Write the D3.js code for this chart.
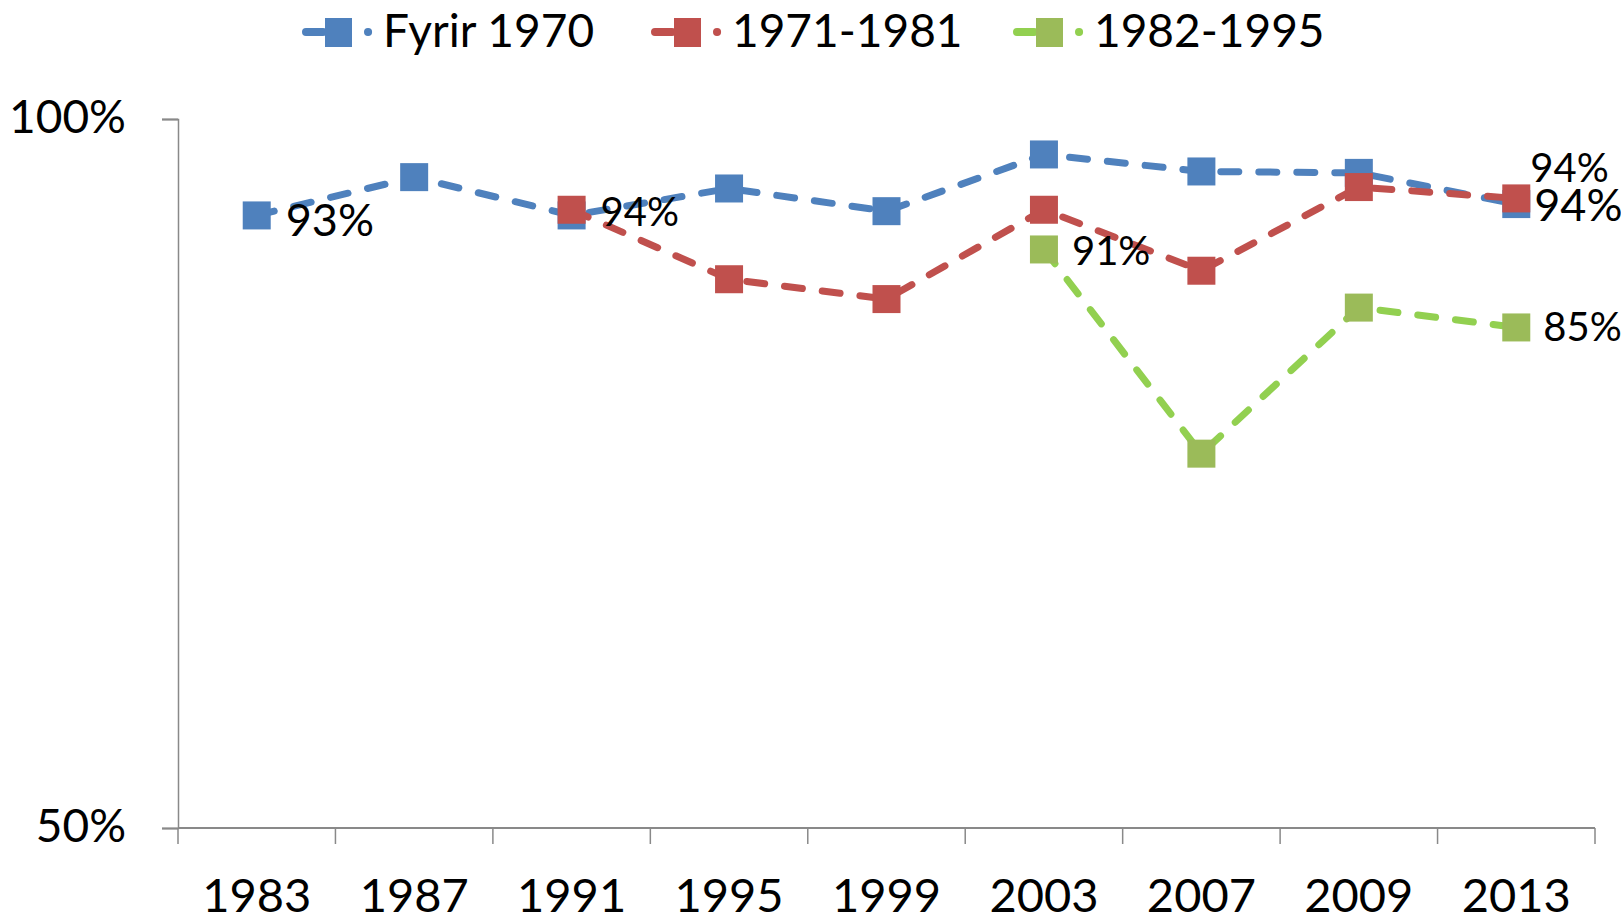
<!DOCTYPE html>
<html>
<head>
<meta charset="utf-8">
<script src="https://cdn.jsdelivr.net/npm/d3@7"></script>
<style>
  body { margin: 0; background: #fff; }
  text { font-family: Lato, "Open Sans", sans-serif; fill: #000; }
</style>
</head>
<body>
<div id="c1"></div>
<script>
// Data
var years = ["1983", "1987", "1991", "1995", "1999", "2003", "2007", "2009", "2013"];
var seriesNames = ["Fyrir 1970", "1971-1981", "1982-1995"];
var fyrir1970 = [93.2, 95.9, 93.2, 95.1, 93.5, 97.5, 96.3, 96.2, 94.0];
var s1971_1981 = [null, null, 93.6, 88.7, 87.3, 93.6, 89.3, 95.2, 94.4];
var s1982_1995 = [null, null, null, null, null, 90.8, 76.4, 86.7, 85.3];
var yTicks = [50, 100];

// Layout
var w = 1621, h = 917;
var plotLeft = 178, plotRight = 1595, plotTop = 119, plotBottom = 828;
var lineColors = ["#4F81BD", "#C0504D", "#92D050"];
var markColors = ["#4F81BD", "#C0504D", "#9BBB59"];
var markSize = 28;
var dash = "18,20";

// which points carry a value label: [series, year index, dx, dy, font size]
var labelSpots = [
    [0, 0, 29, 21, 45],
    [1, 2, 29, 16, 40],
    [2, 5, 28, 16, 40],
    [1, 8, 14, -16, 40],
    [0, 8, 18, 17, 45],
    [2, 8, 27, 14, 40]
];

var svg = d3.select("#c1").append("svg")
    .attr("width", w)
    .attr("height", h);

svg.append("rect").attr("width", w).attr("height", h).attr("fill", "#fff");

var x = d3.scaleBand().domain(years).range([plotLeft, plotRight]);
var y = d3.scaleLinear().domain([50, 100]).range([plotBottom, plotTop]);

var series = [fyrir1970, s1971_1981, s1982_1995].map(function (vals, i) {
    return {
        name: seriesNames[i],
        idx: i,
        points: vals.map(function (v, j) { return { year: years[j], value: v, j: j }; })
            .filter(function (d) { return d.value != null; })
    };
});

// Y axis
var yAxis = svg.append("g")
    .attr("transform", "translate(" + plotLeft + ",0)")
    .call(d3.axisLeft(y).tickValues(yTicks).tickSize(16).tickPadding(36)
        .tickFormat(function (d) { return d + "%"; }));
yAxis.select(".domain").attr("stroke", "#898989").attr("stroke-width", 1.5);
yAxis.selectAll(".tick line").attr("stroke", "#898989").attr("stroke-width", 2);
yAxis.selectAll(".tick text").attr("font-size", 46).attr("font-family", "Lato").attr("fill", "#000")
    .attr("dy", "0.3em");

// X axis (labels centred in bands, ticks on band edges)
var xAxis = svg.append("g")
    .attr("transform", "translate(0," + plotBottom + ")")
    .call(d3.axisBottom(x).tickSize(0).tickPadding(0));
xAxis.select(".domain").remove();
xAxis.selectAll(".tick text")
    .attr("font-size", 47).attr("font-family", "Lato").attr("fill", "#000")
    .attr("dy", 0).attr("y", 84);

svg.append("line")
    .attr("x1", plotLeft).attr("x2", plotRight)
    .attr("y1", plotBottom).attr("y2", plotBottom)
    .attr("stroke", "#898989").attr("stroke-width", 2);

var edges = years.map(function (d) { return x(d); }).concat([plotRight]);
svg.selectAll("line.xtick")
    .data(edges)
    .enter()
    .append("line")
    .attr("class", "xtick")
    .attr("x1", function (d) { return d; }).attr("x2", function (d) { return d; })
    .attr("y1", plotBottom).attr("y2", plotBottom + 16)
    .attr("stroke", "#898989").attr("stroke-width", 1.5);

// Lines and markers
var line = d3.line()
    .x(function (d) { return x(d.year) + x.bandwidth() / 2; })
    .y(function (d) { return y(d.value); });

series.forEach(function (s) {
    var g = svg.append("g");
    g.append("path")
        .attr("d", line(s.points))
        .attr("fill", "none")
        .attr("stroke", lineColors[s.idx])
        .attr("stroke-width", 7)
        .attr("stroke-dasharray", dash)
        .attr("stroke-linecap", "round");
    g.selectAll("rect")
        .data(s.points)
        .enter()
        .append("rect")
        .attr("x", function (d) { return x(d.year) + x.bandwidth() / 2 - markSize / 2; })
        .attr("y", function (d) { return y(d.value) - markSize / 2; })
        .attr("width", markSize)
        .attr("height", markSize)
        .attr("fill", markColors[s.idx]);
});

// Value labels
var fmt = function (v) { return Math.round(v) + "%"; };
var allVals = [fyrir1970, s1971_1981, s1982_1995];
svg.selectAll("text.lbl")
    .data(labelSpots)
    .enter()
    .append("text")
    .attr("class", "lbl")
    .attr("x", function (d) { return x(years[d[1]]) + x.bandwidth() / 2 + d[2]; })
    .attr("y", function (d) { return y(allVals[d[0]][d[1]]) + d[3]; })
    .attr("font-size", function (d) { return d[4]; })
    .text(function (d) { return fmt(allVals[d[0]][d[1]]); });

// Legend
var legendX = [302, 651, 1013];
var legend = svg.selectAll("g.legend")
    .data(series)
    .enter()
    .append("g")
    .attr("class", "legend")
    .attr("transform", function (d, i) { return "translate(" + legendX[i] + ",32)"; });

legend.append("line")
    .attr("x1", 4).attr("x2", 70)
    .attr("y1", 0).attr("y2", 0)
    .attr("stroke", function (d) { return lineColors[d.idx]; })
    .attr("stroke-width", 8)
    .attr("stroke-linecap", "round")
    .attr("stroke-dasharray", "17,45,0.1,20");

legend.append("rect")
    .attr("x", 23).attr("y", -14)
    .attr("width", 27).attr("height", 29)
    .attr("fill", function (d) { return markColors[d.idx]; });

legend.append("text")
    .attr("x", 81)
    .attr("y", 15)
    .attr("font-size", 46)
    .text(function (d) { return d.name; });
</script>
</body>
</html>
